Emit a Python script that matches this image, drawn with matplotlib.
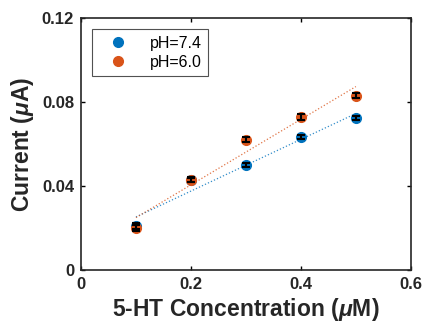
import matplotlib
matplotlib.use("Agg")
import matplotlib.pyplot as plt
import numpy as np

plt.rcParams['font.family'] = ['Liberation Sans', 'DejaVu Sans']
plt.rcParams['mathtext.fontset'] = 'custom'
plt.rcParams['mathtext.it'] = 'Liberation Sans:italic:bold'

conc = np.array([0.1, 0.2, 0.3, 0.4, 0.5])
cur_74 = np.array([0.021, 0.043, 0.050, 0.0633, 0.0724])
cur_60 = np.array([0.020, 0.043, 0.062, 0.073, 0.083])
err_74 = np.array([0.0012, 0.0010, 0.0009, 0.0010, 0.0010])
err_60 = np.array([0.0015, 0.0012, 0.0012, 0.0015, 0.0012])

blue = '#0072BD'
orange = '#D95319'

fig = plt.figure(figsize=(4.24, 3.29), dpi=100)
ax = fig.add_axes([0.191, 0.179, 0.778, 0.766])

ax.plot(conc, cur_74, 'o', color=blue, ms=7, label='pH=7.4', zorder=3)
ax.plot(conc, cur_60, 'o', color=orange, ms=7, label='pH=6.0', zorder=3)
ax.errorbar(conc, cur_74, yerr=err_74, fmt='none', ecolor='black', capsize=3, elinewidth=1.5, capthick=1.5, zorder=4)
ax.errorbar(conc, cur_60, yerr=err_60, fmt='none', ecolor='black', capsize=3, elinewidth=1.5, capthick=1.5, zorder=4)

# linear fits
for y, c in [(cur_74, blue), (cur_60, orange)]:
    p = np.polyfit(conc, y, 1)
    ax.plot(conc[[0, -1]], np.polyval(p, conc[[0, -1]]), ':', color=c, lw=0.9, alpha=0.8, zorder=2)

ax.set_xlim(0, 0.6)
ax.set_ylim(0, 0.12)
ax.set_xticks([0, 0.2, 0.4, 0.6])
ax.set_xticklabels(['0', '0.2', '0.4', '0.6'])
ax.set_yticks([0, 0.04, 0.08, 0.12])
ax.set_yticklabels(['0', '0.04', '0.08', '0.12'])
ax.tick_params(direction='in', top=True, right=True, length=3, width=1, labelsize=12, pad=5)
for lab in ax.get_xticklabels() + ax.get_yticklabels():
    lab.set_fontweight('bold')
    lab.set_color('#262626')
for s in ax.spines.values():
    s.set_linewidth(1.2)
    s.set_color('#262626')

ax.set_xlabel(r'5-HT Concentration ($\mu$M)', fontsize=16.5, fontweight='bold', color='#262626', labelpad=3)
ax.set_ylabel(r'Current ($\mu$A)', fontsize=16.5, fontweight='bold', color='#262626', labelpad=4)

leg = ax.legend(loc='upper left', fontsize=11.5, frameon=True, fancybox=False, edgecolor='#262626',
                borderaxespad=0.7, handlelength=2.4, handletextpad=0.8, borderpad=0.4, labelspacing=0.25)
leg.get_frame().set_linewidth(0.8)

fig.savefig('out.png', dpi=100)
